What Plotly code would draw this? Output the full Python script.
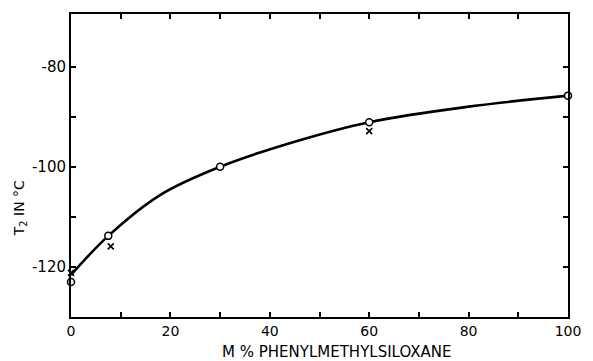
import plotly.graph_objects as go

# Measured data points (open circles)
circle_x = [0, 7.5, 30, 60, 100]
circle_y = [-123.0, -113.8, -100.0, -91.1, -85.8]

# Secondary measurements (x marks)
cross_x = [0, 8, 60]
cross_y = [-121.2, -115.9, -92.9]

# Smooth curve
curve_x = [0, 7.5, 18, 30, 45, 60, 80, 100]
curve_y = [-121.6, -113.8, -105.6, -100.0, -95.0, -91.1, -88.0, -85.8]

x_ticks = [0, 20, 40, 60, 80, 100]
x_minor = [10, 30, 50, 70, 90]
y_ticks = [-80, -100, -120]
y_minor = [-110, -90]

font = "DejaVu Sans, Liberation Sans, sans-serif"

fig = go.Figure()
fig.add_trace(go.Scatter(x=curve_x, y=curve_y, mode="lines",
                         line=dict(color="black", width=2.6, shape="spline", smoothing=1.0),
                         cliponaxis=False, hoverinfo="skip"))
fig.add_trace(go.Scatter(x=cross_x, y=cross_y, mode="markers",
                         marker=dict(symbol="x-thin", size=6, line=dict(color="black", width=1.6)),
                         cliponaxis=False))
fig.add_trace(go.Scatter(x=circle_x, y=circle_y, mode="markers",
                         marker=dict(symbol="circle", size=7, color="white",
                                     line=dict(color="black", width=1.5)),
                         cliponaxis=False))

fig.update_layout(
    width=593, height=361,
    margin=dict(l=71, r=14, t=12, b=44),
    paper_bgcolor="white", plot_bgcolor="white",
    showlegend=False,
    font=dict(family=font, color="black", size=15),
)
fig.update_xaxes(range=[0, 100], showgrid=False, zeroline=False,
                 showline=True, linecolor="black", linewidth=2, mirror="allticks",
                 ticks="inside", ticklen=5, tickwidth=1.5, tickcolor="black",
                 tickvals=x_ticks, ticktext=[str(v) for v in x_ticks],
                 minor=dict(tickvals=x_minor, ticks="inside", ticklen=5,
                            tickwidth=1.5, tickcolor="black", showgrid=False),
                 ticklabeloverflow="allow",
                 tickfont=dict(size=14, family=font))
fig.update_yaxes(range=[-130, -69.5], showgrid=False, zeroline=False,
                 showline=True, linecolor="black", linewidth=2, mirror="allticks",
                 ticks="inside", ticklen=5, tickwidth=1.5, tickcolor="black",
                 tickvals=y_ticks, ticktext=["-" + str(-v) for v in y_ticks],
                 minor=dict(tickvals=y_minor, ticks="inside", ticklen=5,
                            tickwidth=1.5, tickcolor="black", showgrid=False),
                 tickfont=dict(size=15, family=font))

fig.add_annotation(text="M % PHENYLMETHYLSILOXANE", xref="paper", yref="paper",
                   x=0.535, y=-0.115, yanchor="middle", xanchor="center", showarrow=False,
                   font=dict(size=15, family=font))
fig.add_annotation(text="T<sub>2</sub> IN °C", xref="paper", yref="paper",
                   x=-0.102, y=0.36, textangle=-90, xanchor="center", yanchor="middle",
                   showarrow=False, font=dict(size=14, family=font))

fig.write_html("out.html")
